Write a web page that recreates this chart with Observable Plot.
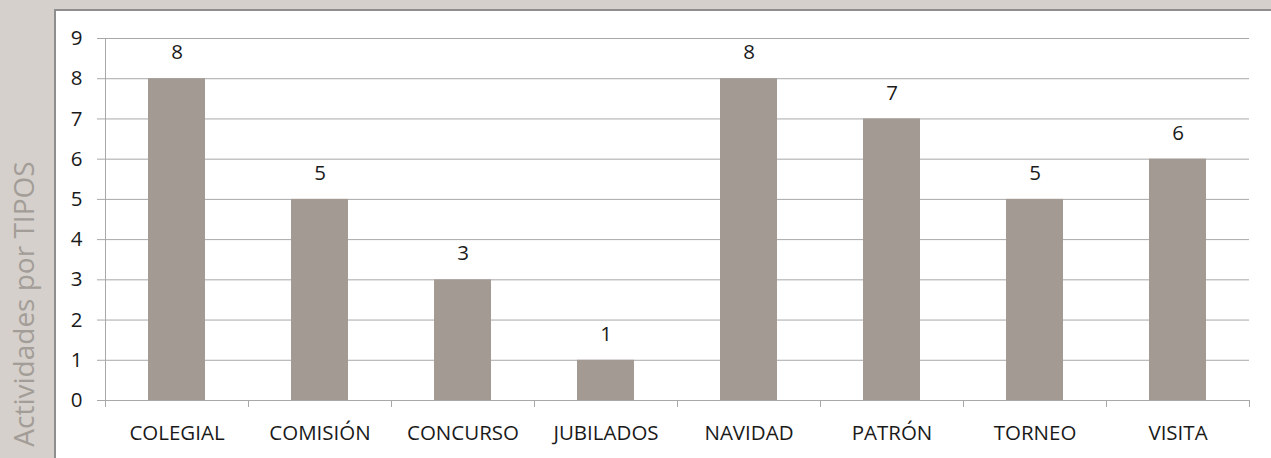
<!DOCTYPE html>
<html>
<head>
<meta charset="utf-8">
<script src="https://cdn.jsdelivr.net/npm/d3@7"></script>
<script src="https://cdn.jsdelivr.net/npm/@observablehq/plot@0.6"></script>
<style>
  html, body { margin: 0; padding: 0; background: #d5d0cb; overflow: hidden; }
  #wrap { position: relative; width: 1271px; height: 458px; overflow: hidden; background: #d5d0cb; }
  #panel { position: absolute; left: 54px; top: 9px; width: 1300px; height: 500px; background: #ffffff; border: 2px solid #8e8e8e; }
  #ytitle { position: absolute; left: 23px; top: 304px; transform: translate(-50%, -50%) rotate(-90deg); white-space: nowrap;
            font-family: "Open Sans", sans-serif; font-size: 28px; color: #a39d98; }
  #chart { position: absolute; left: 0; top: 0; }
  #chart svg { background: transparent; }
</style>
</head>
<body>
<div id="wrap">
  <div id="panel"></div>
  <div id="ytitle">Actividades por TIPOS</div>
  <div id="chart"></div>
</div>
<script>
const categories = ["COLEGIAL", "COMISIÓN", "CONCURSO", "JUBILADOS", "NAVIDAD", "PATRÓN", "TORNEO", "VISITA"];
const values = [8, 5, 3, 1, 8, 7, 5, 6];
const yTicks = [0, 1, 2, 3, 4, 5, 6, 7, 8, 9];

const data = categories.map((c, i) => ({cat: c, val: values[i]}));
const gridColor = "#a8a8a8";
const step = (1271 - 105 - 22) / categories.length;

const chart = Plot.plot({
  width: 1271,
  height: 458,
  marginLeft: 105,
  marginRight: 22,
  marginTop: 38,
  marginBottom: 58,
  style: {fontFamily: "'Open Sans', sans-serif", background: "transparent", color: "#1a1a1a"},
  x: {domain: categories, paddingInner: 0.6, paddingOuter: 0.3},
  y: {domain: [0, 9]},
  marks: [
    Plot.gridY(yTicks, {stroke: gridColor, strokeOpacity: 1}),
    Plot.axisY(yTicks, {tickSize: 8, tickPadding: 15, fontSize: 20.5, label: null, stroke: gridColor, strokeOpacity: 1, tickFormat: d => d}),
    Plot.frame({anchor: "left", stroke: gridColor}),
    Plot.frame({anchor: "bottom", stroke: gridColor}),
    Plot.ruleX(categories, {x: d => d, y1: 0, y2: -7 / 40.2, dx: -step / 2, stroke: gridColor}),
    Plot.ruleX([categories[categories.length - 1]], {x: d => d, y1: 0, y2: -7 / 40.2, dx: step / 2, stroke: gridColor}),
    Plot.barY(data, {x: "cat", y: "val", fill: "#a49a94"}),
    Plot.text(data, {x: "cat", y: "val", text: d => String(d.val), dy: -26, fontSize: 20.5, fill: "#1a1a1a"}),
    Plot.axisX({tickSize: 0, tickPadding: 25, fontSize: 20.5, label: null})
  ]
});
document.getElementById("chart").appendChild(chart);
</script>
</body>
</html>
